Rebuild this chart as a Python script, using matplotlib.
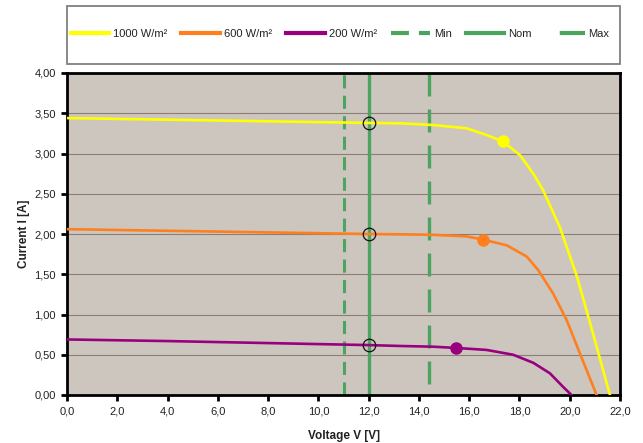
import numpy as np
import matplotlib
matplotlib.use("Agg")
import matplotlib.pyplot as plt
from matplotlib.patches import Rectangle
from matplotlib.ticker import FuncFormatter, MultipleLocator

plt.rcParams['font.family'] = ['Liberation Sans', 'DejaVu Sans']

# I-V curves (Voltage V, Current A)
v_1000 = [0.0, 4.0, 8.0, 12.0, 13.25, 14.57, 15.9, 16.69, 17.34, 18.02, 18.55, 18.93,
          19.6, 20.29, 20.92, 21.6]
i_1000 = [3.44, 3.42, 3.40, 3.38, 3.375, 3.354, 3.313, 3.23, 3.15, 2.98, 2.75, 2.55,
          2.09, 1.47, 0.77, 0.0]

v_600 = [0.0, 4.0, 8.0, 12.0, 13.25, 14.57, 15.9, 16.56, 17.49, 18.29, 18.75, 19.34,
         19.88, 20.4, 21.07]
i_600 = [2.06, 2.04, 2.02, 2.00, 1.996, 1.99, 1.97, 1.93, 1.86, 1.72, 1.55, 1.26,
         0.93, 0.52, 0.0]

v_200 = [0.0, 4.0, 8.0, 12.0, 13.25, 14.57, 15.46, 16.69, 17.75, 18.55, 19.21, 19.74, 20.07]
i_200 = [0.69, 0.67, 0.645, 0.62, 0.609, 0.60, 0.585, 0.56, 0.50, 0.40, 0.27, 0.10, 0.0]

# maximum power points (filled) and nominal operating points (open circles)
mpp_v = [17.34, 16.56, 15.46]
mpp_i = [3.15, 1.93, 0.585]
nom_i = [3.38, 2.00, 0.62]

v_min, v_nom, v_max = 11.0, 12.0, 14.4

c_yellow = '#FFFF00'
c_orange = '#FF7F1E'
c_purple = '#990080'
c_green = '#4CA461'

fig = plt.figure(figsize=(6.43, 4.43), dpi=100)
ax = fig.add_axes([67/643, 48/443, 553/643, 322/443])
ax.set_facecolor('#CDC6BF')

ax.set_xlim(0, 22)
ax.set_ylim(0, 4)
ax.yaxis.set_major_locator(MultipleLocator(0.5))
ax.xaxis.set_major_locator(MultipleLocator(2))
ax.yaxis.grid(True, color='#8C7E74', linewidth=0.8)
ax.set_axisbelow(True)

ax.xaxis.set_major_formatter(FuncFormatter(lambda x, p: f"{x:.1f}".replace('.', ',')))
ax.yaxis.set_major_formatter(FuncFormatter(lambda y, p: f"{y:.2f}".replace('.', ',')))

for s in ax.spines.values():
    s.set_linewidth(2)
    s.set_color('black')
ax.tick_params(direction='out', length=4, width=2, labelsize=8, colors='black',
               labelcolor='#222222', pad=4)

# operating voltage window
ax.axvline(v_min, color=c_green, lw=2.2, label='Min', linestyle=(0, (4.3, 2.4)))
ax.axvline(v_nom, color=c_green, lw=2.4, label='Nom')
ax.axvline(v_max, color=c_green, lw=2.4, label='Max', linestyle=(7.5, (6.9, 3.9)))

ax.plot(v_1000, i_1000, color=c_yellow, lw=1.9, label='1000 W/m²', zorder=3)
ax.plot(v_600, i_600, color=c_orange, lw=1.9, label='600 W/m²', zorder=3)
ax.plot(v_200, i_200, color=c_purple, lw=1.9, label='200 W/m²', zorder=3)

for v, i, c in zip(mpp_v, mpp_i, [c_yellow, c_orange, c_purple]):
    ax.plot(v, i, 'o', color=c, markersize=8, zorder=4)
ax.plot([v_nom] * 3, nom_i, 'o', markerfacecolor='none', markeredgecolor='#111111',
        markersize=9, markeredgewidth=0.9, zorder=5)

ax.set_xlabel('Voltage V [V]', fontsize=8.5, fontweight='bold', color='#222222', labelpad=10)
ax.set_ylabel('Current I [A]', fontsize=8.5, fontweight='bold', color='#222222', labelpad=3)

# legend box on top
fig.patches.append(Rectangle((67/643, 379/443), 553/643, 58/443, transform=fig.transFigure,
                             fill=False, edgecolor='#808080', linewidth=1.3))
handles, labels = ax.get_legend_handles_labels()
order = [3, 4, 5, 0, 1, 2]
leg = fig.legend([handles[k] for k in order], [labels[k] for k in order],
                 loc='center', bbox_to_anchor=(340/643, 409/443), ncol=6, frameon=False,
                 fontsize=8, handlelength=3.5, handletextpad=0.35, columnspacing=1.25,
                 labelcolor='#222222')
for lh in leg.get_lines():
    lh.set_linewidth(3)

fig.savefig('out.png', dpi=100)
